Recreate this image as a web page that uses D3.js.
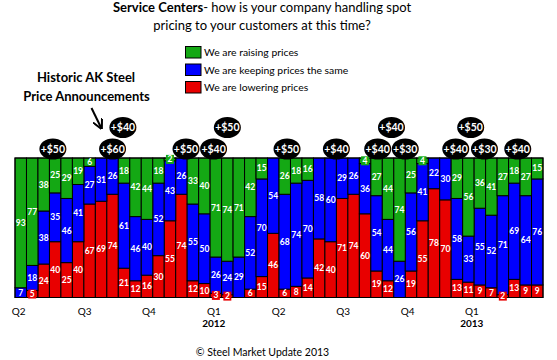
<!DOCTYPE html>
<html><head><meta charset="utf-8">
<script src="https://cdn.jsdelivr.net/npm/d3@7"></script>
<style>body{margin:0;background:#fff} svg{display:block}</style>
</head><body><svg id="c" width="557" height="360"></svg>
<script>
// Survey responses (% of respondents), one entry per survey
const raising  = [93,77,38,25,29,19,6,0,0,18,42,44,18,2,0,33,40,71,74,71,42,15,0,26,18,16,0,0,0,0,4,27,44,74,25,4,0,0,29,56,36,41,27,18,27,15];
const same     = [7,18,38,35,46,41,27,31,26,61,46,40,52,43,26,55,50,26,24,29,52,70,54,68,74,70,58,60,29,26,36,54,44,26,56,41,22,30,58,33,55,52,71,69,64,76];
const lowering = [0,5,24,40,25,40,67,69,74,21,12,16,30,55,74,12,10,3,2,0,6,15,46,6,8,14,42,40,71,74,60,19,12,0,19,55,78,70,13,11,9,7,2,13,9,9];
const seriesNames = ["We are raising prices","We are keeping prices the same","We are lowering prices"];

// Quarter tick labels (position in survey-index units)
const quarterLabels = ["Q2","Q3","Q4","Q1","Q2","Q3","Q4","Q1"];
const quarterPos    = [0.32,6.06,11.66,17.32,22.97,28.6,34.2,39.8];
const yearLabels    = ["","","","2012","","","","2013"];

// AK Steel price announcements (position in survey-index units, row 0 = lower, 1 = upper)
const announceLabels = ["+$50","+$60","+$40","+$50","+$40","+$50","+$50","+$40","+$40","+$40","+$30","+$40","+$50","+$30","+$40"];
const announcePos    = [3.3,8.5,9.4,14.9,17.3,18.5,23.7,28.0,31.6,32.8,34.0,38.4,39.7,40.9,43.8];
const announceRow    = [0,0,1,0,0,1,0,0,0,1,0,0,1,0,0];

const colors = {raising:"#14a814", same:"#0000ff", lowering:"#e80000"};
const FONT = "Lato, 'Open Sans', sans-serif";

const svg = d3.select("#c");
const n = raising.length;
const rows = d3.range(n).map(i => ({i, raising: raising[i], same: same[i], lowering: lowering[i]}));

const pl = 15, pr = 543, pt = 158, pb = 297.5;
const x = d3.scaleBand().domain(d3.range(n)).range([pl, pr]).paddingInner(0).paddingOuter(0);
const xPos = d3.scaleLinear().domain([0, n]).range([pl, pr]);
const y = d3.scaleLinear().domain([0, 100]).range([pb, pt]);

// Title
const title = svg.append("text").attr("x", 262).attr("y", 11.5).attr("text-anchor","middle")
  .style("font-family", FONT).style("font-size","13px").attr("fill","#000");
title.append("tspan").attr("font-weight","bold").text("Service Centers");
title.append("tspan").text("- how is your company handling spot");
svg.append("text").attr("x", 262).attr("y", 30).attr("text-anchor","middle")
  .style("font-family", FONT).style("font-size","13px").text("pricing to your customers at this time?");

// Legend
const legKeys = ["raising","same","lowering"];
const leg = svg.append("g");
legKeys.forEach((k, j) => {
  const gy = 46.5 + j * 17.5;
  leg.append("rect").attr("x", 185.5).attr("y", gy).attr("width", 15.5).attr("height", 11.5)
    .attr("fill", colors[k]).attr("stroke","#000").attr("stroke-width",1);
  leg.append("text").attr("x", 204).attr("y", gy + 9.5).style("font-family", FONT)
    .style("font-size","10.4px").text(seriesNames[j]);
});

// Annotation text
svg.append("text").attr("x", 86).attr("y", 82).attr("text-anchor","middle").attr("font-weight","bold")
  .style("font-family", FONT).style("font-size","13px").text("Historic AK Steel");
svg.append("text").attr("x", 86.5).attr("y", 101).attr("text-anchor","middle").attr("font-weight","bold")
  .style("font-family", FONT).style("font-size","13px").text("Price Announcements");

// Arrow
svg.append("defs").append("marker").attr("id","ah").attr("viewBox","0 0 10 10").attr("refX",8).attr("refY",5)
  .attr("markerWidth",5).attr("markerHeight",5).attr("orient","auto")
  .append("path").attr("d","M0,0 L10,5 L0,10").attr("fill","none").attr("stroke","#000").attr("stroke-width",2);
svg.append("line").attr("x1", 91.5).attr("y1", 108).attr("x2", 101).attr("y2", 127.5)
  .attr("stroke","#000").attr("stroke-width",2).attr("marker-end","url(#ah)");

// Stacked bars
const stack = d3.stack().keys(["lowering","same","raising"]);
const stacked = stack(rows);
const gBars = svg.append("g");
stacked.forEach(layer => {
  gBars.append("g").selectAll("rect").data(layer).join("rect")
    .attr("x", d => x(d.data.i)).attr("width", x.bandwidth())
    .attr("y", d => y(d[1])).attr("height", d => y(d[0]) - y(d[1]))
    .attr("fill", colors[layer.key]).attr("stroke","#000").attr("stroke-width",1);
});
// outline
svg.append("rect").attr("x", pl).attr("y", pt).attr("width", pr-pl).attr("height", pb-pt)
  .attr("fill","none").attr("stroke","#000").attr("stroke-width",1);

// Labels
const gLab = svg.append("g").style("font-family", FONT).style("font-size","8.5px").attr("font-weight","bold");
stacked.forEach(layer => {
  layer.forEach(d => {
    const v = d.data[layer.key];
    if (v <= 0) return;
    const cx = x(d.data.i) + x.bandwidth()/2;
    const cy = (y(d[0]) + y(d[1]))/2;
    if (v < 6) {
      const w = String(v).length * 5 + 3;
      gLab.append("rect").attr("x", cx - w/2).attr("y", cy - 4.5).attr("width", w).attr("height", 9)
        .attr("fill", colors[layer.key]);
    }
    gLab.append("text").attr("x", cx).attr("y", cy + 3).attr("text-anchor","middle")
      .attr("fill","#fff").text(v);
  });
});

// Announcement bubbles: upper row first, lower row on top
const order = d3.range(announceLabels.length).sort((a,b) => announceRow[b] - announceRow[a]);
const gB = svg.append("g");
order.forEach(k => {
  const cx = xPos(announcePos[k]);
  const cy = announceRow[k] ? 127.5 : 149;
  gB.append("ellipse").attr("cx", cx).attr("cy", cy).attr("rx", 13.5).attr("ry", 10.5).attr("fill","#000");
  gB.append("text").attr("x", cx).attr("y", cy + 3.8).attr("text-anchor","middle").attr("fill","#fff")
    .attr("font-weight","bold").style("font-family", FONT).style("font-size","10.5px").text(announceLabels[k]);
});

// Quarter axis labels
const gAx = svg.append("g").style("font-family", FONT).style("font-size","10px");
quarterLabels.forEach((q, j) => {
  gAx.append("text").attr("x", xPos(quarterPos[j])).attr("y", 315).attr("text-anchor","middle").text(q);
  if (yearLabels[j]) gAx.append("text").attr("x", xPos(quarterPos[j])).attr("y", 326.5)
    .attr("text-anchor","middle").attr("font-weight","bold").text(yearLabels[j]);
});

// Footer
svg.append("text").attr("x", 262.5).attr("y", 355.5).attr("text-anchor","middle")
  .style("font-family", FONT).style("font-size","10.5px").text("© Steel Market Update 2013");
</script></body></html>
